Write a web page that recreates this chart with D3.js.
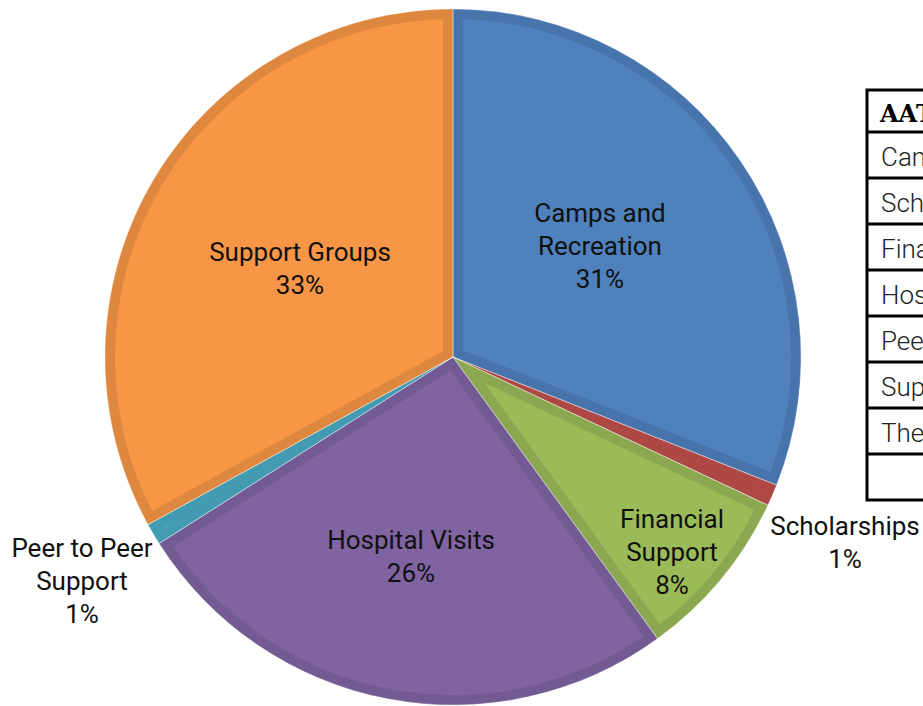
<!DOCTYPE html>
<html><head><meta charset="utf-8">
<script src="https://cdn.jsdelivr.net/npm/d3@7"></script>
<style>body{margin:0;background:#fff;overflow:hidden}</style>
</head><body>
<svg id="c" width="923" height="706"></svg>
<script>
const categories = ["Camps and Recreation","Scholarships","Financial Support","Hospital Visits","Peer to Peer Support","Support Groups"];
const values = [31,1,8,26,1,33];
const labelLines = [["Camps and","Recreation","31%"],["Scholarships","1%"],["Financial","Support","8%"],["Hospital Visits","26%"],["Peer to Peer","Support","1%"],["Support Groups","33%"]];
const colors = ["#4F81BD","#C0504D","#9BBB59","#8064A2","#4BACC6","#F79646"];
const tableHeader = "AAT Programs";
const tableRows = ["Camps and Recreation","Scholarships","Financial Support","Hospital Visits","Peer to Peer Support","Support Groups","Therapy",""];

const svg = d3.select("#c");
const cx = 453, cy = 357, R = 348;
const pie = d3.pie().sort(null).value(d=>d);
const arcs = pie(values);
const arc = d3.arc().innerRadius(0).outerRadius(R);
const g = svg.append("g").attr("transform",`translate(${cx},${cy})`);
const defs = svg.append("defs");
arcs.forEach((a,i)=>{
  defs.append("clipPath").attr("id","cp"+i).append("path").attr("d",arc(a));
  g.append("path").attr("d",arc(a)).attr("fill",colors[i])
   .attr("stroke",d3.color(colors[i]).darker(0.3)).attr("stroke-width",20)
   .attr("stroke-linejoin","miter")
   .attr("clip-path",`url(#cp${i})`);
});
arcs.forEach((a,i)=>{
  g.append("path").attr("d",arc(a)).attr("fill","none").attr("stroke","#fff").attr("stroke-width",0.6).attr("stroke-opacity",0.6);
});

const manual = [[600,246],[845,542],[672,552],[411,556],[82,581],[300,268]];
arcs.forEach((a,i)=>{
  const [x,y] = manual[i];
  const lines = labelLines[i];
  const lh = 33;
  const t = svg.append("text").attr("text-anchor","middle")
    .attr("font-family","Roboto, 'Noto Sans', sans-serif").attr("font-size",26).attr("fill","#111");
  lines.forEach((l,k)=>{
    t.append("tspan").attr("x",x).attr("y", y + (k-(lines.length-1)/2)*lh + 9).text(l);
  });
});

// table
const tx = 867, ty = 90, tw = 300;
const rowY = d3.scaleLinear().domain([0,1]).range([132,178]);
const tg = svg.append("g");
tg.append("rect").attr("x",tx).attr("y",ty).attr("width",tw).attr("height",rowY(tableRows.length)-ty)
  .attr("fill","#fff").attr("stroke","#000").attr("stroke-width",3);
tableRows.forEach((r,i)=>{
  tg.append("line").attr("x1",tx).attr("x2",tx+tw).attr("y1",rowY(i)).attr("y2",rowY(i)).attr("stroke","#000").attr("stroke-width",3);
  tg.append("text").attr("x",881).attr("y",rowY(i)+34).attr("font-family","Roboto, sans-serif")
    .attr("font-weight",300).attr("font-size",26).attr("fill","#222").text(r);
});
tg.append("text").attr("x",880).attr("y",122).attr("font-family","'DejaVu Serif', serif").attr("font-weight","bold")
  .attr("font-size",24).attr("fill","#000").text(tableHeader);
</script>
</body></html>
